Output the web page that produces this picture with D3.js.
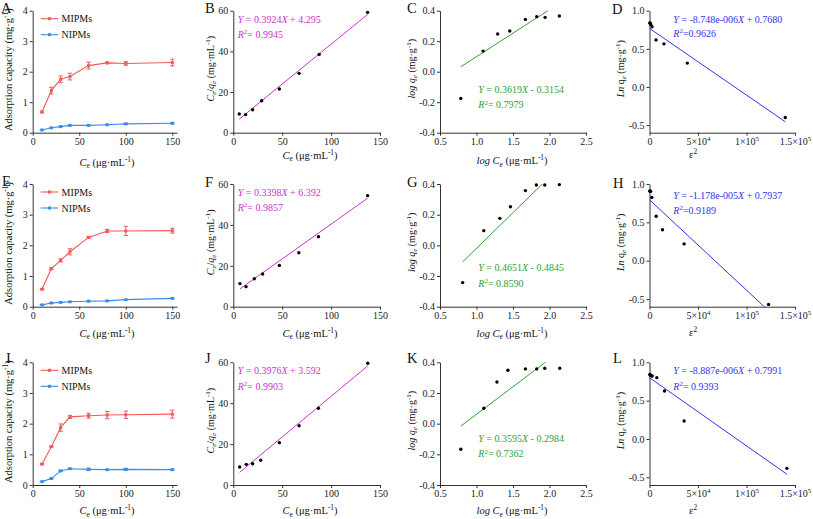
<!DOCTYPE html>
<html><head><meta charset="utf-8">
<script src="https://cdn.jsdelivr.net/npm/d3@7"></script>
<style>
html,body{margin:0;padding:0;background:#fff;}
svg{display:block;}
</style></head><body>
<svg id="chart" width="813" height="519"></svg>
<script>
// ---------------- DATA ----------------
const conc = [10, 20, 30, 40, 60, 80, 100, 150];
// Isotherms (A, E, I)
const mipA = [0.68, 1.38, 1.75, 1.84, 2.20, 2.29, 2.27, 2.30];
const mipAErr = [0.03, 0.11, 0.11, 0.11, 0.11, 0.03, 0.06, 0.11];
const nipA = [0.09, 0.16, 0.20, 0.24, 0.24, 0.26, 0.29, 0.31];
const nipAErr = [0.01, 0.01, 0.01, 0.01, 0.01, 0.01, 0.02, 0.02];
const mipE = [0.57, 1.24, 1.51, 1.79, 2.26, 2.47, 2.47, 2.48];
const mipEErr = [0.02, 0.03, 0.05, 0.10, 0.03, 0.05, 0.15, 0.08];
const nipE = [0.06, 0.12, 0.14, 0.16, 0.18, 0.19, 0.23, 0.27];
const nipEErr = [0.01, 0.01, 0.01, 0.01, 0.01, 0.01, 0.01, 0.01];
const mipI = [0.68, 1.25, 1.87, 2.22, 2.26, 2.28, 2.29, 2.31];
const mipIErr = [0.02, 0.02, 0.12, 0.05, 0.08, 0.12, 0.12, 0.13];
const nipI = [0.11, 0.21, 0.46, 0.53, 0.51, 0.50, 0.51, 0.50];
const nipIErr = [0.01, 0.01, 0.02, 0.02, 0.04, 0.01, 0.03, 0.02];
const seriesNames = ["MIPMs", "NIPMs"];

// Langmuir (B, F, J): Ce vs Ce/qe
const ceB = [6.1, 12.6, 19.8, 29.0, 47.1, 67.3, 87.8, 137.3];
const ratioB = [9.2, 8.9, 11.3, 15.7, 21.5, 29.2, 38.5, 59.2];
const ceF = [6.8, 13.0, 21.5, 30.0, 47.1, 67.0, 87.1, 137.3];
const ratioF = [11.3, 9.8, 13.7, 16.0, 20.2, 26.4, 34.2, 54.3];
const ceJ = [6.5, 13.3, 19.8, 28.0, 47.1, 67.3, 87.0, 137.5];
const ratioJ = [8.8, 10.1, 10.4, 12.1, 20.7, 29.0, 37.5, 59.5];

// Freundlich (C, G, K): log Ce vs log qe
const logCeC = [0.785, 1.09, 1.29, 1.455, 1.67, 1.825, 1.94, 2.135];
const logQeC = [-0.175, 0.135, 0.247, 0.267, 0.343, 0.361, 0.356, 0.365];
const logCeG = [0.81, 1.10, 1.32, 1.465, 1.67, 1.82, 1.935, 2.135];
const logQeG = [-0.243, 0.096, 0.176, 0.252, 0.357, 0.393, 0.393, 0.396];
const logCeK = [0.785, 1.10, 1.28, 1.43, 1.67, 1.825, 1.935, 2.14];
const logQeK = [-0.167, 0.10, 0.272, 0.348, 0.357, 0.357, 0.361, 0.361];

// Dubinin-Radushkevich (D, H, L): eps^2 vs ln qe
const epsD = [330, 780, 1300, 2600, 6700, 14900, 39000, 140000];
const lnQeD = [0.84, 0.835, 0.82, 0.79, 0.617, 0.565, 0.313, -0.40];
const epsH = [300, 700, 1200, 2400, 6900, 13400, 35700, 122700];
const lnQeH = [0.908, 0.904, 0.905, 0.825, 0.579, 0.404, 0.219, -0.57];
const epsL = [330, 780, 1375, 2750, 7560, 15460, 35700, 141600];
const lnQeL = [0.84, 0.835, 0.826, 0.822, 0.80, 0.626, 0.235, -0.383];

// Fitted equations: [slope, intercept]
const fitB = [0.3924, 4.295], fitF = [0.3398, 6.392], fitJ = [0.3976, 3.592];
const fitC = [0.3619, -0.3154], fitG = [0.4651, -0.4845], fitK = [0.3595, -0.2984];
const fitD = [-8.748e-6, 0.7680], fitH = [-1.178e-5, 0.7937], fitL = [-8.887e-6, 0.7991];
// Drawn fit line in panel C (start, end points)
const fitLineC = [[0.785, 0.032], [1.977, 0.40]];
const eqText = {
  B: ["0.3924", " + 4.295", "= 0.9945"], F: ["0.3398", " + 6.392", "= 0.9857"], J: ["0.3976", " + 3.592", "= 0.9903"],
  C: ["0.3619", " - 0.3154", "= 0.7979"], G: ["0.4651", " - 0.4845", "= 0.8590"], K: ["0.3595", " - 0.2984", "= 0.7362"],
  D: ["-8.748e-006", " + 0.7680", "=0.9626"], H: ["-1.178e-005", " + 0.7937", "=0.9189"], L: ["-8.887e-006", " + 0.7991", "= 0.9393"]
};

// Tick values
const ticksIsoX = [0, 50, 100, 150], ticksIsoY = [0, 1, 2, 3, 4];
const ticksLangX = [0, 50, 100, 150], ticksLangY = [0, 20, 40, 60];
const ticksFreX = [0.5, 1.0, 1.5, 2.0, 2.5], ticksFreY = [-0.4, -0.2, 0.0, 0.2, 0.4];
const ticksDRX = [0, 50000, 100000, 150000], ticksDRY = [-0.5, 0.0, 0.5, 1.0];
const ticksDRXLabels = [[["0"]], [["5×10"], ["4", "sup"]], [["1×10"], ["5", "sup"]], [["1.5×10"], ["5", "sup"]]];

// ---------------- LAYOUT ----------------
const FONT = '"Liberation Serif","Times New Roman",serif';
const RED = "#f25a5a", BLUE = "#3a8ee6", MAG = "#cc33cc", GRN = "#33a033", EQB = "#3333ee";
const TICK_FS = 10, TITLE_FS = 10.5, YTITLE_FS = 10, EQ_FS = 10;
const cols = [{x0: 32.7, x1: 177}, {x0: 233.3, x1: 380}, {x0: 440, x1: 586}, {x0: 649.5, x1: 795}];
const rows = [{top: 10.7, bot: 132.7}, {top: 184, bot: 306.7}, {top: 362.3, bot: 485}];
const svg = d3.select("#chart").attr("font-family", FONT);
const defs = svg.append("defs");

function rich(sel, segs, fs) {
  let cur = 0;
  segs.forEach(s => {
    const ts = sel.append("tspan").text(s.t);
    const target = s.sup ? -0.38 * fs : (s.sub ? 0.25 * fs : 0);
    if (target !== cur) ts.attr("dy", target - cur);
    cur = target;
    if (s.sup || s.sub) ts.attr("font-size", (fs * 0.7) + "px");
    if (s.i) ts.attr("font-style", "italic");
  });
}

function addText(x, y, segs, fs, opts = {}) {
  const t = svg.append("text").attr("x", x).attr("y", y)
    .attr("font-size", fs + "px").attr("fill", opts.fill || "#111")
    .attr("text-anchor", opts.anchor || "start");
  if (opts.rot) t.attr("transform", `rotate(-90,${x},${y})`);
  rich(t, segs, fs);
  return t;
}

function makePanel(ci, ri, xDom, yDom, xt, yt, xfmt, yfmt, id) {
  const c = cols[ci], r = rows[ri];
  const x = d3.scaleLinear().domain(xDom).range([c.x0, c.x1]);
  const y = d3.scaleLinear().domain(yDom).range([r.bot, r.top]);
  const g = svg.append("g");
  const xa = g.append("g").attr("transform", `translate(0,${r.bot})`)
    .call(d3.axisBottom(x).tickValues(xt).tickFormat(xfmt).tickSize(3).tickSizeOuter(0).tickPadding(2));
  const ya = g.append("g").attr("transform", `translate(${c.x0},0)`)
    .call(d3.axisLeft(y).tickValues(yt).tickFormat(yfmt).tickSize(3).tickSizeOuter(0).tickPadding(2));
  [xa, ya].forEach(a => {
    a.attr("font-family", FONT).attr("font-size", TICK_FS + "px");
    a.selectAll("path,line").attr("stroke", "#333").attr("stroke-width", 1);
    a.selectAll("text").attr("fill", "#222");
  });
  defs.append("clipPath").attr("id", "clip" + id).append("rect")
    .attr("x", c.x0).attr("y", r.top).attr("width", c.x1 - c.x0).attr("height", r.bot - r.top);
  return {x, y, g, xa, ya};
}

const f1 = d => d.toFixed(1);
const f0 = d => String(d);

// ---------- Isotherm panels ----------
const isoTitleY = [165.5, 336.5, 514];
function isoPanel(ri, mip, mipErr, nip, nipErr, id) {
  const p = makePanel(0, ri, [0, 155], [0, 4], ticksIsoX, ticksIsoY, f0, f0, id);
  [[mip, mipErr, RED], [nip, nipErr, BLUE]].forEach(([v, e, col]) => {
    const pts = conc.map((c, i) => ({c, v: v[i], e: e[i]}));
    p.g.append("path").datum(pts)
      .attr("d", d3.line().x(d => p.x(d.c)).y(d => p.y(d.v)))
      .attr("fill", "none").attr("stroke", col).attr("stroke-width", 1.1);
    const eb = p.g.append("g").attr("stroke", col).attr("stroke-width", 1);
    pts.forEach(d => {
      const cx = p.x(d.c), y1 = p.y(d.v - d.e), y2 = p.y(d.v + d.e);
      eb.append("line").attr("x1", cx).attr("x2", cx).attr("y1", y1).attr("y2", y2);
      eb.append("line").attr("x1", cx - 2.2).attr("x2", cx + 2.2).attr("y1", y1).attr("y2", y1);
      eb.append("line").attr("x1", cx - 2.2).attr("x2", cx + 2.2).attr("y1", y2).attr("y2", y2);
    });
    p.g.append("g").selectAll("rect").data(pts).join("rect")
      .attr("x", d => p.x(d.c) - 1.5).attr("y", d => p.y(d.v) - 1.5)
      .attr("width", 3).attr("height", 3).attr("fill", col);
  });
  // legend
  const r = rows[ri];
  [[RED, seriesNames[0], 8], [BLUE, seriesNames[1], 24]].forEach(([col, name, dy]) => {
    const yy = r.top + dy;
    svg.append("line").attr("x1", 40.7).attr("x2", 58.3).attr("y1", yy).attr("y2", yy)
      .attr("stroke", col).attr("stroke-width", 1.1);
    svg.append("rect").attr("x", 48).attr("y", yy - 1.5).attr("width", 3).attr("height", 3).attr("fill", col);
    addText(61.5, yy + 3.5, [{t: name}], 10);
  });
  addText(107, isoTitleY[ri], [{t: "C", i: 1}, {t: "e", sub: 1}, {t: " (μg·mL"}, {t: "-1", sup: 1}, {t: ")"}], TITLE_FS, {anchor: "middle"});
  addText(12, (r.top + r.bot) / 2 - 2, [{t: "Adsorption capacity (mg·g"}, {t: "-1", sup: 1}, {t: ")"}], 10.5, {anchor: "middle", rot: 1});
}
isoPanel(0, mipA, mipAErr, nipA, nipAErr, "A");
isoPanel(1, mipE, mipEErr, nipE, nipEErr, "E");
isoPanel(2, mipI, mipIErr, nipI, nipIErr, "I");

// ---------- Scatter + fit panels ----------
function fitPanel(ci, ri, xs, ys, fit, col, id, cfg) {
  const p = makePanel(ci, ri, cfg.xDom, cfg.yDom, cfg.xt, cfg.yt, cfg.xfmt, cfg.yfmt, id);
  const ext = d3.extent(xs);
  const seg = cfg.line || [[ext[0], fit[0] * ext[0] + fit[1]], [ext[1], fit[0] * ext[1] + fit[1]]];
  p.g.append("line").attr("clip-path", `url(#clip${id})`)
    .attr("x1", p.x(seg[0][0])).attr("y1", p.y(seg[0][1]))
    .attr("x2", p.x(seg[1][0])).attr("y2", p.y(seg[1][1]))
    .attr("stroke", col).attr("stroke-width", 1);
  p.g.append("g").selectAll("circle").data(xs.map((v, i) => [v, ys[i]])).join("circle")
    .attr("cx", d => p.x(d[0])).attr("cy", d => p.y(d[1])).attr("r", 1.7).attr("fill", "#000");
  const e = eqText[id];
  addText(cfg.eq[0], cfg.eq[1] + 3.5, [{t: "Y", i: 1}, {t: " = " + e[0]}, {t: "X", i: 1}, {t: e[1]}], EQ_FS, {fill: col});
  addText(cfg.eq[0], cfg.eq[2] + 3.5, [{t: "R", i: 1}, {t: "2", sup: 1}, {t: e[2]}], EQ_FS, {fill: col});
  return p;
}

const langCfg = {xDom: [0, 150], yDom: [0, 60], xt: ticksLangX, yt: ticksLangY, xfmt: f0, yfmt: f0};
const freCfg = {xDom: [0.5, 2.5], yDom: [-0.4, 0.4], xt: ticksFreX, yt: ticksFreY, xfmt: f1, yfmt: f1};
const drCfg = {xDom: [0, 150000], yDom: [-0.6, 1.0], xt: ticksDRX, yt: ticksDRY, xfmt: () => "", yfmt: f1};

const langSets = [[ceB, ratioB, fitB, "B", [237.7, 19, 34.3], 158.5], [ceF, ratioF, fitF, "F", [237.7, 192.7, 207.7], 336.5], [ceJ, ratioJ, fitJ, "J", [237.7, 370, 386.7], 514]];
langSets.forEach((s, ri) => {
  fitPanel(1, ri, s[0], s[1], s[2], MAG, s[3], Object.assign({eq: s[4]}, langCfg));
  const r = rows[ri];
  addText(310, s[5], [{t: "C", i: 1}, {t: "e", sub: 1}, {t: " (μg·mL"}, {t: "-1", sup: 1}, {t: ")"}], TITLE_FS, {anchor: "middle"});
  addText(214, (r.top + r.bot) / 2 - 3, [{t: "C", i: 1}, {t: "e", sub: 1, i: 1}, {t: "/"}, {t: "q", i: 1}, {t: "e", sub: 1, i: 1}, {t: " (mg·mL"}, {t: "-1", sup: 1}, {t: ")"}], YTITLE_FS, {anchor: "middle", rot: 1});
});

const freSets = [[logCeC, logQeC, fitC, "C", [478.3, 89.3, 104.8], 164, fitLineC], [logCeG, logQeG, fitG, "G", [478.3, 267.7, 283.3], 336.5, null], [logCeK, logQeK, fitK, "K", [478.3, 438.3, 453.8], 514, null]];
freSets.forEach((s, ri) => {
  fitPanel(2, ri, s[0], s[1], s[2], GRN, s[3], Object.assign({eq: s[4], line: s[6]}, freCfg));
  const r = rows[ri];
  addText(512, s[5], [{t: "log C", i: 1}, {t: "e", sub: 1}, {t: " (μg·mL"}, {t: "-1", sup: 1}, {t: ")"}], TITLE_FS, {anchor: "middle"});
  addText(415, (r.top + r.bot) / 2 - 3, [{t: "log q", i: 1}, {t: "e", sub: 1, i: 1}, {t: " (mg·g"}, {t: "-1", sup: 1}, {t: ")"}], YTITLE_FS, {anchor: "middle", rot: 1});
});

const drSets = [[epsD, lnQeD, fitD, "D", [673.3, 19, 33.3], 157.5], [epsH, lnQeH, fitH, "H", [673.3, 195, 210], 336], [epsL, lnQeL, fitL, "L", [673.3, 370, 386], 514]];
drSets.forEach((s, ri) => {
  const p = fitPanel(3, ri, s[0], s[1], s[2], EQB, s[3], Object.assign({eq: s[4]}, drCfg));
  p.xa.selectAll(".tick text").each(function (d, i) {
    const t = d3.select(this);
    rich(t, ticksDRXLabels[i].map(a => ({t: a[0], sup: a[1] === "sup"})), TICK_FS);
  });
  const r = rows[ri];
  addText(693, s[5], [{t: "ε"}, {t: "2", sup: 1}], TITLE_FS, {anchor: "middle"});
  addText(624, (r.top + r.bot) / 2 - 3, [{t: "Ln", i: 1}, {t: " q"}, {t: "e", sub: 1, i: 1}, {t: " (mg·g"}, {t: "-1", sup: 1}, {t: ")"}], YTITLE_FS, {anchor: "middle", rot: 1});
});

// Panel letters
const letters = ["A", "B", "C", "D", "E", "F", "G", "H", "I", "J", "K", "L"];
const letterPos = [[1, 12.5], [205, 13], [407, 13], [612, 13.5], [2, 186], [205, 187], [407, 187], [613, 188], [6, 363], [205, 363], [407, 363], [613, 363]];
letters.forEach((l, i) => addText(letterPos[i][0], letterPos[i][1], [{t: l}], 14.5));
</script>
</body></html>
